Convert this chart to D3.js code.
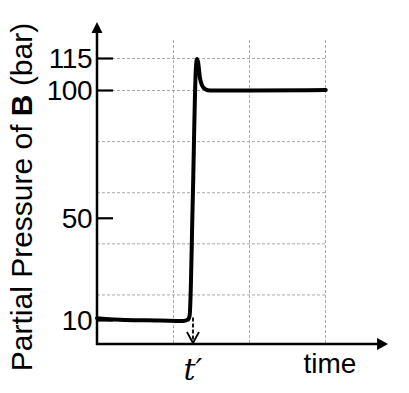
<!DOCTYPE html>
<html>
<head>
<meta charset="utf-8">
<script src="https://cdn.jsdelivr.net/npm/d3@7"></script>
<style>
  html, body { margin: 0; padding: 0; background: #fff; }
  svg { display: block; }
</style>
</head>
<body>
<svg id="chart" width="409" height="393"></svg>
<script>
// ---- data ----
const timeValues     = [0, 0.37, 0.83, 1.13, 1.20, 1.22, 1.26, 1.30, 1.316, 1.33, 1.355, 1.38, 1.42, 1.49, 2.01, 3.01];
const pressureValues = [10.7, 10.0, 9.8, 9.6, 10.2, 12.0, 57, 109.4, 114.5, 113, 105.6, 102.3, 100.5, 99.8, 99.8, 100];
const yTickValues    = [10, 50, 100, 115];
const yGridValues    = [20, 40, 60, 80, 100, 115];
const xGridValues    = [1, 2, 3];
const tPrime         = 1.263;
const tPrimeLabel    = "t′";
const xAxisLabel     = "time";
const yLabelParts    = [["Partial Pressure of ", false], ["B", true], [" (bar)", false]];

// ---- scales ----
const x = d3.scaleLinear().domain([0, 3]).range([97, 325]);
const y = d3.scaleLinear().domain([0, 10, 100, 115]).range([344, 320, 90, 58]);
const xMaxArrow = 3.83;
const yMaxArrow = 131.9;
const yGridTop = 123.4;

const svg = d3.select("#chart");

// gridlines
const grid = svg.append("g")
  .attr("stroke", "#a8a8a8").attr("stroke-width", 1)
  .attr("stroke-dasharray", "3,2").attr("fill", "none");
grid.selectAll("line.h").data(yGridValues).join("line")
  .attr("class", "h")
  .attr("x1", x(0)).attr("x2", x(3))
  .attr("y1", d => y(d) + 0.5).attr("y2", d => y(d) + 0.5);
grid.selectAll("line.v").data(xGridValues).join("line")
  .attr("class", "v")
  .attr("x1", d => Math.round(x(d)) + 0.5).attr("x2", d => Math.round(x(d)) + 0.5)
  .attr("y1", y(yGridTop)).attr("y2", y(0));

// y axis ticks via d3 axis
const yAxis = d3.axisRight(y).tickValues(yTickValues).tickSize(16).tickFormat("");
const yAxisG = svg.append("g").attr("transform", `translate(${x(0)},0)`).call(yAxis);
yAxisG.select(".domain").remove();
yAxisG.selectAll(".tick line").attr("stroke", "#000").attr("stroke-width", 2.2);

// tick labels
svg.append("g").selectAll("text").data(yTickValues).join("text")
  .attr("x", x(0) - 5)
  .attr("y", d => y(d))
  .attr("dy", "0.36em")
  .attr("text-anchor", "end")
  .attr("font-family", "Liberation Sans, Arial, sans-serif")
  .attr("font-size", 28)
  .attr("letter-spacing", -0.5)
  .attr("fill", "#000")
  .text(d => d);

// axes lines with arrows
svg.append("line")
  .attr("x1", x(0)).attr("x2", x(0))
  .attr("y1", y(0) + 1).attr("y2", y(yMaxArrow) + 8)
  .attr("stroke", "#000").attr("stroke-width", 2.5);
svg.append("path")
  .attr("d", `M${x(0)},${y(yMaxArrow)} L${x(0) - 5.5},${y(yMaxArrow) + 11} L${x(0) + 5.5},${y(yMaxArrow) + 11} Z`)
  .attr("fill", "#000");
svg.append("line")
  .attr("x1", x(0) - 1).attr("x2", x(xMaxArrow) - 8)
  .attr("y1", y(0)).attr("y2", y(0))
  .attr("stroke", "#000").attr("stroke-width", 2.5);
svg.append("path")
  .attr("d", `M${x(xMaxArrow)},${y(0)} L${x(xMaxArrow) - 11},${y(0) - 6} L${x(xMaxArrow) - 11},${y(0) + 6} Z`)
  .attr("fill", "#000");

// dashed arrow at t'
const tx = x(tPrime);
svg.append("line")
  .attr("x1", tx).attr("x2", tx)
  .attr("y1", y(11)).attr("y2", y(0) - 2)
  .attr("stroke", "#000").attr("stroke-width", 1.8)
  .attr("stroke-dasharray", "4,2");
svg.append("path")
  .attr("d", `M${tx - 6},${y(0) - 12} L${tx},${y(0) - 1} L${tx + 6},${y(0) - 12}`)
  .attr("fill", "none").attr("stroke", "#000").attr("stroke-width", 1.8);

// curve
const pts = timeValues.map((t, i) => [t, pressureValues[i]]);
svg.append("path")
  .datum(pts)
  .attr("fill", "none")
  .attr("stroke", "#000")
  .attr("stroke-width", 4)
  .attr("stroke-linejoin", "round")
  .attr("stroke-linecap", "round")
  .attr("d", d3.line().x(d => x(d[0])).y(d => y(d[1])).curve(d3.curveMonotoneX));

// labels
svg.append("text")
  .attr("x", tx).attr("y", 380)
  .attr("text-anchor", "middle")
  .attr("font-family", "DejaVu Serif, Liberation Serif, serif")
  .attr("font-style", "italic")
  .attr("font-size", 30)
  .text(tPrimeLabel);

svg.append("text")
  .attr("x", 330).attr("y", 373)
  .attr("text-anchor", "middle")
  .attr("font-family", "Liberation Sans, Arial, sans-serif")
  .attr("font-size", 28)
  .text(xAxisLabel);

const yl = svg.append("text")
  .attr("transform", "translate(32,197) rotate(-90)")
  .attr("text-anchor", "middle")
  .attr("font-family", "Liberation Sans, Arial, sans-serif")
  .attr("font-size", 30);
yl.selectAll("tspan").data(yLabelParts).join("tspan")
  .attr("font-weight", d => d[1] ? "bold" : "normal")
  .text(d => d[0]);
</script>
</body>
</html>
